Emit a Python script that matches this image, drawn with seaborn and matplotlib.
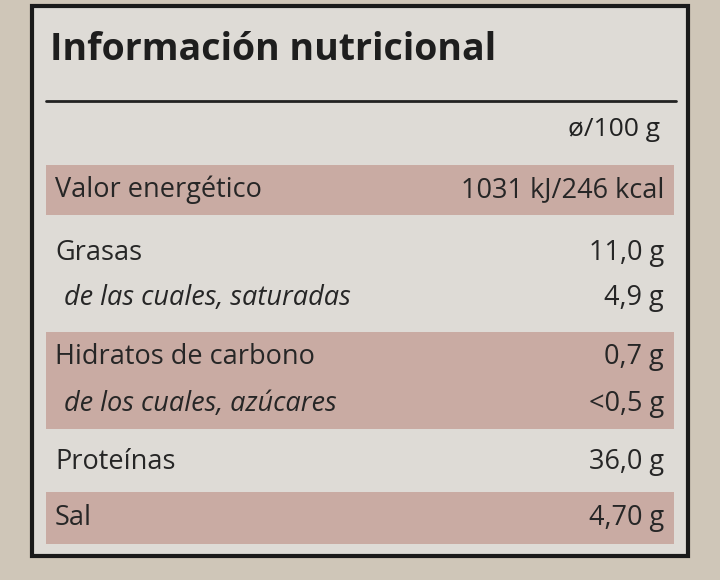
import matplotlib
matplotlib.use("Agg")
import matplotlib.pyplot as plt
import seaborn as sns
from matplotlib.patches import Rectangle

# datos de la etiqueta
titulo = "Información nutricional"
cabecera = "ø/100 g"
nutrientes = ["Valor energético", "Grasas", "de las cuales, saturadas",
              "Hidratos de carbono", "de los cuales, azúcares", "Proteínas", "Sal"]
valores = ["1031 kJ/246 kcal", "11,0 g", "4,9 g", "0,7 g", "<0,5 g", "36,0 g", "4,70 g"]
subfila = [False, False, True, False, True, False, False]
sombreado = [True, False, False, True, True, False, True]

sns.set_theme(style="white")
plt.rcParams['font.family'] = ['Open Sans', 'DejaVu Sans']

fig = plt.figure(figsize=(7.2, 5.8), dpi=100)
fig.patch.set_facecolor("#cfc6b8")
ax = fig.add_axes([0, 0, 1, 1])
ax.set_xlim(0, 720)
ax.set_ylim(580, 0)
ax.axis("off")

# caja de la etiqueta
ax.add_patch(Rectangle((32, 6), 656, 550, facecolor="#dedbd6", edgecolor="#1a1a1a", lw=3))
ax.text(50, 50, titulo, fontsize=27, fontweight="bold", color="#1e1e1e", va="center")
ax.plot([46, 676], [101, 101], color="#222222", lw=2)
ax.text(660, 130, cabecera, fontsize=19, color="#222222", ha="right", va="center")

# filas
y_filas = [190, 253, 298, 357, 404, 462, 518]
alto = [50, 44, 44, 50, 50, 44, 52]
for y, h, s in zip(y_filas, alto, sombreado):
    if s:
        ax.barh(y, 628, left=46, height=h, color="#c9aba3", edgecolor="none")
for y, n, v, sub in zip(y_filas, nutrientes, valores, subfila):
    ax.text(64 if sub else 55, y, n, fontsize=19.5, color="#262626", va="center",
            style="italic" if sub else "normal")
    ax.text(664, y, v, fontsize=19.5, color="#262626", va="center", ha="right")

fig.savefig("out.png", dpi=100, facecolor=fig.get_facecolor())
